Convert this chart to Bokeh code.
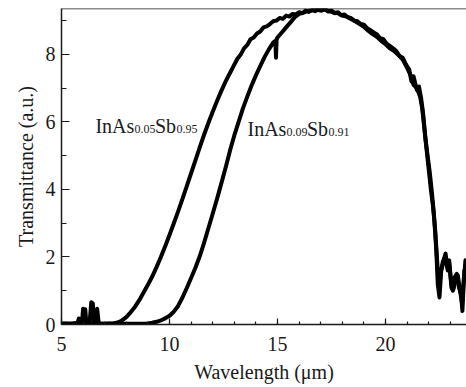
from bokeh.plotting import figure
from bokeh.models import Range1d, Span, SingleIntervalTicker
from bokeh.core.properties import value
from bokeh.embed import file_html
from bokeh.resources import INLINE

# ---- data ----
x_a = [5.0, 5.2, 5.4, 5.6, 5.75, 5.8, 5.85, 5.95, 6.0, 6.05, 6.1, 6.15, 6.3, 6.38, 6.45, 6.5,
       6.6, 6.65, 6.72, 6.8, 7.0, 7.2, 7.4, 7.6, 7.8, 8.0, 8.2, 8.4, 8.6, 8.8, 9.0, 9.2, 9.4,
       9.6, 9.8, 10.0, 10.2, 10.4, 10.6, 10.8, 11.0, 11.2, 11.4, 11.6, 11.8, 12.0, 12.2, 12.4,
       12.6, 12.8, 13.0, 13.15, 13.3, 13.45, 13.6, 13.75, 13.9, 14.05, 14.2, 14.35, 14.5,
       14.65, 14.8, 14.95, 15.1, 15.25, 15.4, 15.55, 15.7, 15.85, 16.0, 16.15, 16.3, 16.45,
       16.6, 16.75, 16.9, 17.05, 17.2, 17.35, 17.5, 17.65, 17.8, 17.95, 18.1, 18.25, 18.4,
       18.55, 18.7, 18.85, 19.0, 19.15, 19.3, 19.45, 19.6, 19.75, 19.9, 20.05, 20.2, 20.35,
       20.5, 20.65, 20.8, 20.95, 21.1, 21.2, 21.3, 21.45, 21.55, 21.65, 21.75, 21.85, 21.95,
       22.05, 22.15, 22.25, 22.35, 22.42, 22.5, 22.58, 22.7, 22.78, 22.88, 22.95, 23.05,
       23.12, 23.2, 23.3, 23.4, 23.5, 23.56, 23.62, 23.7, 23.75]
y_a = [0.02, 0.03, 0.02, 0.04, 0.05, 0.18, 0.05, 0.06, 0.47, 0.08, 0.45, 0.05, 0.06, 0.66, 0.62, 0.08,
       0.06, 0.47, 0.06, 0.03, 0.02, 0.03, 0.03, 0.06, 0.12, 0.22, 0.36, 0.52, 0.72, 0.95, 1.18, 1.42, 1.7,
       2.0, 2.32, 2.65, 3.0, 3.35, 3.72, 4.1, 4.48, 4.86, 5.25, 5.62, 5.97, 6.3, 6.62, 6.92,
       7.2, 7.45, 7.7, 7.88, 8.0, 8.18, 8.28, 8.45, 8.5, 8.62, 8.68, 8.8, 8.83,
       8.9, 8.98, 9.0, 9.08, 9.05, 9.15, 9.12, 9.2, 9.18, 9.25, 9.22, 9.3, 9.26,
       9.33, 9.28, 9.35, 9.3, 9.34, 9.27, 9.3, 9.22, 9.25, 9.16, 9.18, 9.1, 9.08,
       9.0, 8.98, 8.9, 8.88, 8.78, 8.72, 8.65, 8.6, 8.48, 8.45, 8.32, 8.25, 8.18,
       8.1, 7.95, 7.9, 7.7, 7.55, 7.2, 7.35, 6.95, 7.05, 6.7, 6.2, 5.5, 5.0,
       4.5, 3.9, 3.2, 2.2, 1.2, 0.8, 1.6, 1.9, 2.1, 1.6, 1.9, 1.1,
       1.0, 1.4, 1.5, 1.1, 0.9, 0.4, 1.2, 1.9, 1.3]

x_b = [5.0, 6.0, 7.0, 8.0, 9.0, 9.2, 9.4, 9.6, 9.8, 10.0, 10.2, 10.4, 10.6, 10.8, 11.0, 11.2,
       11.4, 11.6, 11.8, 12.0, 12.2, 12.4, 12.6, 12.8, 13.0, 13.2, 13.4, 13.6, 13.8, 14.0,
       14.2, 14.4, 14.6, 14.8, 14.9, 14.93, 14.96, 15.0, 15.2, 15.4, 15.6, 15.8, 16.0, 16.2,
       16.4, 16.6, 16.8, 17.0, 17.2, 17.4, 17.6, 17.8, 18.0, 18.2, 18.4, 18.6, 18.8, 19.0,
       19.2, 19.4, 19.6, 19.8, 20.0, 20.2, 20.4, 20.6, 20.8, 21.0, 21.15, 21.3, 21.45, 21.6,
       21.7, 21.8, 21.9, 22.0, 22.1, 22.2, 22.3, 22.4, 22.48, 22.55, 22.65, 22.75, 22.85,
       22.95, 23.05, 23.15, 23.25, 23.35, 23.45, 23.55, 23.65, 23.75]
y_b = [0.02, 0.02, 0.02, 0.02, 0.03, 0.05, 0.08, 0.12, 0.18, 0.26, 0.38, 0.55, 0.8, 1.08, 1.38, 1.68,
       2.02, 2.42, 2.85, 3.28, 3.72, 4.18, 4.65, 5.15, 5.6, 6.0, 6.4, 6.75, 7.08, 7.38,
       7.65, 7.92, 8.15, 8.35, 8.4, 7.9, 8.45, 8.5, 8.65, 8.8, 8.95, 9.1, 9.2, 9.24,
       9.28, 9.3, 9.32, 9.3, 9.33, 9.28, 9.24, 9.22, 9.15, 9.12, 9.05, 8.98, 8.9, 8.82,
       8.7, 8.6, 8.52, 8.4, 8.3, 8.18, 8.1, 7.98, 7.85, 7.6, 7.4, 7.1, 7.0, 6.75,
       6.4, 5.8, 5.2, 4.6, 4.0, 3.5, 2.8, 1.8, 1.0, 1.5, 1.85, 2.0, 1.7,
       1.8, 1.2, 1.05, 1.35, 1.45, 1.0, 0.6, 1.6, 1.4]

x_ticks_major = [5, 10, 15, 20]
y_ticks_major = [0, 2, 4, 6, 8]

label1_parts = ["InAs", "0.05", "Sb", "0.95"]
label2_parts = ["InAs", "0.09", "Sb", "0.91"]
label1_anchor = (6.57, 5.87)
label2_anchor = (13.61, 5.78)

# ---- figure ----
FONT = "Liberation Serif"
INK = "#1a1a1a"
Y_TOP = 9.36

p = figure(width=466, height=387, output_backend="svg", toolbar_location=None,
           x_range=Range1d(5, 23.75), y_range=Range1d(0, Y_TOP),
           min_border_left=61, min_border_right=0, min_border_top=8, min_border_bottom=63)
p.outline_line_color = None
p.grid.visible = False
p.background_fill_color = "white"
p.border_fill_color = "white"

p.line(x_a, y_a, line_color="black", line_width=4, line_join="round")
p.line(x_b, y_b, line_color="black", line_width=4, line_join="round")

p.add_layout(Span(location=Y_TOP, dimension="width", line_color=INK, line_width=1.5))

for ax in (p.xaxis[0], p.yaxis[0]):
    ax.axis_line_color = INK
    ax.axis_line_width = 1.5
    ax.major_tick_line_color = INK
    ax.minor_tick_line_color = INK
    ax.major_tick_line_width = 1.2
    ax.minor_tick_line_width = 1.2
    ax.major_tick_out = 0
    ax.minor_tick_out = 0
    ax.major_label_text_font = FONT
    ax.major_label_text_font_size = "20px"
    ax.major_label_text_color = INK
    ax.axis_label_text_font = FONT
    ax.axis_label_text_font_size = "20px"
    ax.axis_label_text_font_style = "normal"
    ax.axis_label_text_color = INK

p.xaxis.ticker = SingleIntervalTicker(interval=5, num_minor_ticks=5)
p.yaxis.ticker = SingleIntervalTicker(interval=2, num_minor_ticks=2)
p.xaxis.major_tick_in = 6
p.xaxis.minor_tick_in = 3
p.yaxis.major_tick_in = 8
p.yaxis.minor_tick_in = 5
p.xaxis.axis_label = "Wavelength (\u03bcm)"
p.yaxis.axis_label = "Transmittance (a.u.)"
p.xaxis.major_label_standoff = 12
p.xaxis.axis_label_standoff = 7
p.yaxis.major_label_standoff = 6
p.yaxis.axis_label_standoff = 6

def draw_label(parts, anchor):
    big, small = 20, 12
    widths = [39, 20.5, 21.5, 20.5]
    off = 0
    for i, t in enumerate(parts):
        sub = i % 2 == 1
        p.text(x=[anchor[0]], y=[anchor[1]], text=[t], x_offset=off, y_offset=(3 if sub else 0),
               text_font=value(FONT), text_font_size=f"{small if sub else big}px",
               text_color=INK, text_baseline="alphabetic", text_align="left")
        off += widths[i]

draw_label(label1_parts, label1_anchor)
draw_label(label2_parts, label2_anchor)

open("out.html", "w").write(file_html(p, INLINE))
